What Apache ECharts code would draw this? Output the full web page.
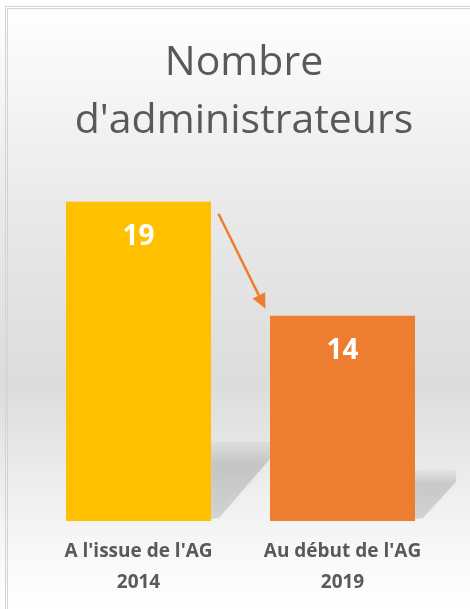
<!DOCTYPE html>
<html>
<head>
<meta charset="utf-8">
<script src="https://cdn.jsdelivr.net/npm/echarts@6/dist/echarts.min.js"></script>
<style>
  html, body { margin: 0; padding: 0; background: #fff; }
  #wrap { position: relative; width: 470px; height: 609px; overflow: hidden; }
  #frame { position: absolute; left: 5px; top: 6px; width: 480px; height: 620px;
           border-left: 3px double #d4d4d4; border-top: 3px double #d4d4d4; }
  #chart { position: absolute; left: 0; top: 0; width: 470px; height: 609px; }
</style>
</head>
<body>
<div id="wrap">
  <div id="chart"></div>
  <div id="frame"></div>
</div>
<script>
// chart data
const categories = ["A l'issue de l'AG\n2014", "Au début de l'AG\n2019"];
const values = [19, 14];
const barColors = ['#FFC000', '#ED7D31'];
const titleText = "Nombre\nd'administrateurs";
const axisMin = 5;

const chart = echarts.init(document.getElementById('chart'));

const option = {
    backgroundColor: {
        type: 'linear', x: 0, y: 0, x2: 0, y2: 1,
        colorStops: [
            { offset: 0, color: '#ffffff' },
            { offset: 0.33, color: '#eaeaea' },
            { offset: 0.63, color: '#dcdcdc' },
            { offset: 0.86, color: '#f4f4f4' },
            { offset: 1, color: '#ffffff' }
        ]
    },
    title: {
        text: titleText,
        left: 239,
        textAlign: 'center',
        top: 29,
        textStyle: {
            fontFamily: 'Open Sans',
            fontSize: 41,
            fontWeight: 'normal',
            lineHeight: 58,
            color: '#595959'
        }
    },
    grid: { left: 36.5, right: 25.5, top: 179, bottom: 88 },
    xAxis: {
        type: 'category',
        data: categories,
        axisLine: { show: false },
        axisTick: { show: false },
        axisLabel: {
            interval: 0,
            hideOverlap: false,
            margin: 15,
            fontFamily: 'Open Sans',
            fontSize: 19,
            fontWeight: 'bold',
            lineHeight: 31,
            color: '#595959'
        }
    },
    yAxis: {
        type: 'value',
        min: axisMin,
        max: 20,
        show: false,
        splitLine: { show: false }
    },
    series: [
        {
            // soft cast shadow behind each bar
            type: 'custom',
            z: 1,
            silent: true,
            data: values.map((v, i) => [i, v]),
            encode: { x: 0, y: 1 },
            renderItem: function (params, api) {
                const top = api.coord([api.value(0), api.value(1)]);
                const base = api.coord([api.value(0), axisMin]);
                const right = top[0] + 72.5;
                const h = (base[1] - top[1]) * 0.25;
                const dx = h * 0.8;
                return {
                    type: 'polygon',
                    shape: {
                        points: [
                            [right, base[1] - 2],
                            [right, base[1] - h],
                            [right + dx, base[1] - h],
                            [right + dx, base[1] - h + 12],
                            [right + 8, base[1] - 3]
                        ]
                    },
                    style: {
                        fill: {
                            type: 'linear', x: 0, y: 0, x2: 0, y2: 1,
                            colorStops: [
                                { offset: 0, color: 'rgba(0,0,0,0.03)' },
                                { offset: 0.3, color: 'rgba(0,0,0,0.14)' },
                                { offset: 1, color: 'rgba(0,0,0,0.12)' }
                            ]
                        },
                        shadowBlur: 8,
                        shadowColor: 'rgba(0,0,0,0.15)'
                    }
                };
            }
        },
        {
            type: 'bar',
            z: 2,
            barWidth: 145,
            data: values.map((v, i) => ({ value: v, itemStyle: { color: barColors[i] } })),
            label: {
                show: true,
                position: 'insideTop',
                distance: 21,
                fontFamily: 'Open Sans',
                fontSize: 28,
                fontWeight: 'bold',
                color: '#ffffff'
            }
        }
    ]
};

chart.setOption(option);

// arrow from the first bar down to the second, placed from axis coords
function drawArrow() {
    const p0 = chart.convertToPixel({ gridIndex: 0 }, [0, values[0]]);
    const p1 = chart.convertToPixel({ gridIndex: 0 }, [1, values[1]]);
    const x1 = p0[0] + 80, y1 = p0[1] + 12;
    const x2 = p1[0] - 77, y2 = p1[1] - 7;
    const ang = Math.atan2(y2 - y1, x2 - x1);
    const headLen = 15, headW = 7;
    const bx = x2 - headLen * Math.cos(ang), by = y2 - headLen * Math.sin(ang);
    const nx = -Math.sin(ang), ny = Math.cos(ang);
    chart.setOption({
        graphic: [
            {
                type: 'line', z: 10,
                shape: { x1: x1, y1: y1, x2: bx, y2: by },
                style: { stroke: '#ED7D31', lineWidth: 2.5 }
            },
            {
                type: 'polygon', z: 10,
                shape: { points: [[x2, y2], [bx + nx * headW, by + ny * headW], [bx - nx * headW, by - ny * headW]] },
                style: { fill: '#ED7D31' }
            }
        ]
    });
}
drawArrow();
</script>
</body>
</html>
